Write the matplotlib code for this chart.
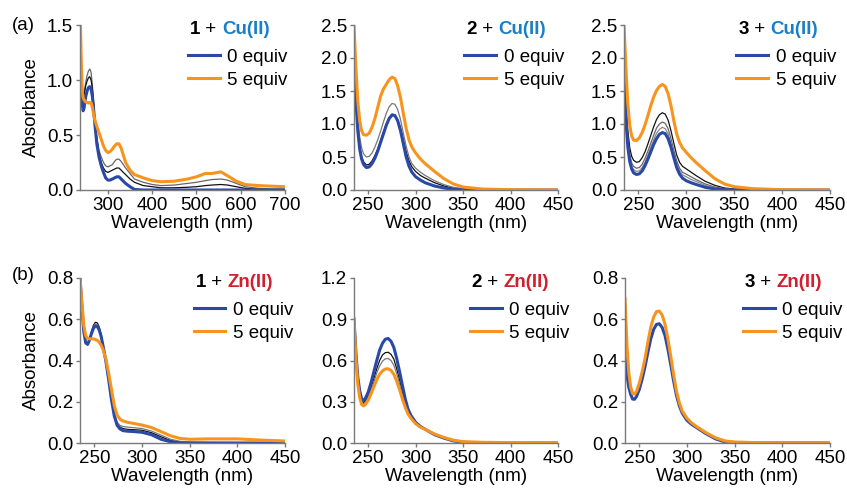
import numpy as np
import matplotlib
matplotlib.use("Agg")
import matplotlib.pyplot as plt

plt.rcParams["font.family"] = ["Liberation Sans", "DejaVu Sans"]
plt.rcParams["font.size"] = 13.5

BLUE = "#2a48a8"
ORANGE = "#f7941d"
CU_COL = "#1b7fc8"
ZN_COL = "#d0202e"

# ================================================================
# DATA
# ================================================================
# (a) 1 + Cu(II)
wl_a1 = [238, 240, 242, 244, 246, 248, 250, 253, 256, 259, 262, 265, 268, 271, 275, 280, 285,
         290, 295, 300, 305, 310, 315, 320, 325, 330, 340, 350, 360, 380, 400, 420, 450, 480,
         500, 520, 535, 555, 570, 590, 610, 640, 670, 700]
a1_blue = [1.2, 0.95, 0.78, 0.72, 0.74, 0.8, 0.85, 0.9, 0.93, 0.94, 0.92, 0.85, 0.72, 0.58, 0.42,
           0.30, 0.22, 0.16, 0.11, 0.09, 0.09, 0.10, 0.11, 0.12, 0.12, 0.10, 0.06, 0.03, 0.005,
           0, 0, 0, 0, 0, 0, 0, 0, 0, 0, 0, 0, 0, 0, 0]
a1_orange = [1.5, 1.15, 0.92, 0.84, 0.82, 0.81, 0.80, 0.795, 0.79, 0.795, 0.795, 0.75, 0.68, 0.63,
             0.58, 0.52, 0.46, 0.40, 0.36, 0.34, 0.35, 0.37, 0.40, 0.42, 0.42, 0.38, 0.25, 0.18,
             0.14, 0.11, 0.085, 0.075, 0.08, 0.10, 0.12, 0.15, 0.15, 0.165, 0.13, 0.08, 0.05,
             0.04, 0.035, 0.03]
a1_mid1 = [1.45, 1.1, 0.9, 0.85, 0.88, 0.93, 0.98, 1.04, 1.08, 1.10, 1.07, 0.95, 0.79, 0.62, 0.48,
           0.36, 0.30, 0.25, 0.22, 0.21, 0.22, 0.23, 0.26, 0.28, 0.28, 0.26, 0.20, 0.15, 0.10,
           0.07, 0.05, 0.04, 0.045, 0.06, 0.07, 0.085, 0.095, 0.10, 0.09, 0.06, 0.03, 0.015,
           0.01, 0.01]
a1_mid2 = [1.4, 1.05, 0.86, 0.8, 0.84, 0.9, 0.95, 0.99, 1.02, 1.03, 1.0, 0.92, 0.77, 0.6, 0.46,
           0.33, 0.25, 0.20, 0.17, 0.16, 0.17, 0.18, 0.19, 0.20, 0.20, 0.18, 0.14, 0.10, 0.07,
           0.04, 0.03, 0.02, 0.02, 0.025, 0.03, 0.04, 0.045, 0.05, 0.045, 0.03, 0.015, 0.005,
           0.0, 0.0]

# (a) 2 + Cu(II) and 3 + Cu(II)
wl_cu = [235, 237, 239, 241, 243, 245, 248, 251, 254, 257, 260, 263, 266, 269, 272, 275, 278,
         281, 284, 287, 290, 293, 296, 300, 305, 310, 320, 330, 340, 350, 370, 400, 450]
a2_blue = [2.0, 1.35, 0.9, 0.62, 0.47, 0.39, 0.34, 0.35, 0.4, 0.48, 0.59, 0.72, 0.85, 0.98, 1.08,
           1.135, 1.13, 1.05, 0.9, 0.7, 0.5, 0.36, 0.27, 0.2, 0.15, 0.11, 0.06, 0.03, 0.01,
           0.003, 0, 0, 0]
a2_mid1 = [2.0, 1.4, 0.95, 0.67, 0.51, 0.43, 0.38, 0.39, 0.44, 0.52, 0.62, 0.75, 0.88, 1.0, 1.1,
           1.15, 1.14, 1.07, 0.94, 0.76, 0.58, 0.44, 0.35, 0.28, 0.22, 0.18, 0.11, 0.06, 0.025,
           0.01, 0.002, 0, 0]
a2_mid2 = [2.2, 1.55, 1.1, 0.8, 0.64, 0.55, 0.5, 0.51, 0.56, 0.65, 0.76, 0.89, 1.03, 1.16, 1.26,
           1.31, 1.3, 1.22, 1.07, 0.86, 0.66, 0.5, 0.4, 0.33, 0.27, 0.22, 0.14, 0.08, 0.04,
           0.02, 0.005, 0, 0]
a2_orange = [2.5, 1.85, 1.35, 1.05, 0.9, 0.84, 0.83, 0.86, 0.95, 1.08, 1.25, 1.42, 1.53, 1.6, 1.67,
             1.71, 1.69, 1.58, 1.4, 1.16, 0.93, 0.76, 0.65, 0.56, 0.47, 0.4, 0.28, 0.17, 0.09,
             0.045, 0.015, 0.005, 0]

a3_blue = [1.7, 1.05, 0.65, 0.43, 0.32, 0.26, 0.235, 0.245, 0.29, 0.37, 0.47, 0.58, 0.69, 0.78,
           0.845, 0.87, 0.855, 0.78, 0.65, 0.49, 0.34, 0.24, 0.18, 0.14, 0.11, 0.085, 0.04,
           0.015, 0.005, 0, 0, 0, 0]
a3_mid1 = [2.0, 1.35, 0.9, 0.64, 0.51, 0.45, 0.42, 0.43, 0.49, 0.58, 0.7, 0.83, 0.96, 1.07, 1.14,
           1.17, 1.15, 1.06, 0.9, 0.71, 0.53, 0.42, 0.36, 0.32, 0.27, 0.22, 0.13, 0.07, 0.03,
           0.015, 0.003, 0, 0]
a3_mid2 = [1.9, 1.22, 0.78, 0.54, 0.41, 0.36, 0.33, 0.34, 0.39, 0.48, 0.59, 0.71, 0.83, 0.94, 1.0,
           1.03, 1.01, 0.93, 0.78, 0.6, 0.44, 0.33, 0.27, 0.24, 0.2, 0.16, 0.09, 0.045, 0.02,
           0.01, 0.002, 0, 0]
a3_mid3 = [1.8, 1.12, 0.7, 0.48, 0.36, 0.31, 0.28, 0.29, 0.34, 0.42, 0.53, 0.65, 0.76, 0.86, 0.92,
           0.95, 0.93, 0.85, 0.71, 0.54, 0.39, 0.29, 0.23, 0.2, 0.16, 0.13, 0.07, 0.03, 0.012,
           0.005, 0, 0, 0]
a3_orange = [2.5, 1.85, 1.3, 0.98, 0.82, 0.755, 0.75, 0.79, 0.87, 0.99, 1.13, 1.28, 1.41, 1.51,
             1.57, 1.6, 1.57, 1.46, 1.28, 1.05, 0.85, 0.72, 0.64, 0.57, 0.49, 0.42, 0.29, 0.17,
             0.09, 0.05, 0.02, 0.005, 0]

# (b) 1 + Zn(II)
wl_b1 = [235, 237, 239, 241, 243, 245, 247, 249, 251, 253, 255, 257, 259, 262, 265, 268, 271,
         274, 277, 280, 285, 290, 300, 310, 320, 330, 340, 350, 370, 400, 430, 450]
b1_blue = [0.80, 0.66, 0.54, 0.485, 0.478, 0.50, 0.53, 0.555, 0.567, 0.565, 0.55, 0.52, 0.475,
           0.4, 0.31, 0.21, 0.13, 0.085, 0.068, 0.06, 0.057, 0.056, 0.052, 0.04, 0.018, 0.006,
           0, 0, 0, 0, 0, 0]
b1_orange = [0.80, 0.68, 0.57, 0.52, 0.507, 0.505, 0.505, 0.505, 0.502, 0.498, 0.49, 0.475, 0.455,
             0.41, 0.34, 0.26, 0.18, 0.135, 0.115, 0.107, 0.1, 0.096, 0.087, 0.075, 0.055, 0.035,
             0.022, 0.018, 0.02, 0.02, 0.013, 0.01]
b1_mid1 = [0.80, 0.66, 0.54, 0.485, 0.48, 0.505, 0.54, 0.57, 0.585, 0.583, 0.565, 0.53, 0.48,
           0.405, 0.315, 0.215, 0.14, 0.093, 0.077, 0.07, 0.066, 0.065, 0.062, 0.05, 0.03, 0.012,
           0.004, 0.002, 0, 0, 0, 0]
b1_mid2 = [0.80, 0.66, 0.54, 0.485, 0.48, 0.503, 0.537, 0.563, 0.577, 0.575, 0.558, 0.526, 0.478,
           0.405, 0.315, 0.22, 0.145, 0.1, 0.085, 0.08, 0.077, 0.075, 0.07, 0.058, 0.038, 0.018,
           0.008, 0.005, 0.003, 0.002, 0, 0]

# (b) 2 + Zn(II) and 3 + Zn(II)
wl_zn = [235, 237, 239, 241, 243, 245, 247, 250, 253, 256, 259, 262, 265, 268, 271, 274, 277,
         280, 283, 286, 289, 292, 295, 300, 305, 310, 320, 330, 340, 350, 370, 400, 450]
b2_blue = [0.90, 0.66, 0.48, 0.38, 0.32, 0.31, 0.325, 0.37, 0.44, 0.52, 0.6, 0.675, 0.725, 0.755,
           0.76, 0.74, 0.695, 0.615, 0.52, 0.42, 0.32, 0.245, 0.2, 0.15, 0.12, 0.1, 0.06, 0.035,
           0.015, 0.005, 0, 0, 0]
b2_mid1 = [0.90, 0.64, 0.46, 0.36, 0.305, 0.295, 0.305, 0.345, 0.405, 0.47, 0.54, 0.6, 0.64, 0.657,
           0.66, 0.645, 0.61, 0.54, 0.46, 0.37, 0.29, 0.225, 0.19, 0.145, 0.117, 0.1, 0.062, 0.037,
           0.017, 0.007, 0.002, 0, 0]
b2_mid2 = [0.90, 0.63, 0.45, 0.35, 0.295, 0.285, 0.295, 0.33, 0.385, 0.445, 0.51, 0.56, 0.595,
           0.612, 0.615, 0.6, 0.565, 0.505, 0.43, 0.35, 0.275, 0.215, 0.185, 0.143, 0.116, 0.1,
           0.063, 0.038, 0.018, 0.008, 0.003, 0.001, 0]
b2_orange = [0.90, 0.62, 0.43, 0.33, 0.28, 0.27, 0.28, 0.31, 0.36, 0.41, 0.46, 0.5, 0.525, 0.538,
             0.54, 0.528, 0.5, 0.45, 0.39, 0.32, 0.26, 0.21, 0.18, 0.14, 0.115, 0.1, 0.065, 0.04,
             0.02, 0.01, 0.005, 0.003, 0.002]

b3_blue = [0.42, 0.33, 0.27, 0.235, 0.213, 0.212, 0.225, 0.26, 0.31, 0.37, 0.44, 0.505, 0.55,
           0.575, 0.578, 0.56, 0.52, 0.455, 0.38, 0.3, 0.23, 0.18, 0.145, 0.11, 0.09, 0.075,
           0.045, 0.02, 0.005, 0, 0, 0, 0]
b3_orange = [0.70, 0.48, 0.34, 0.27, 0.24, 0.237, 0.25, 0.29, 0.345, 0.41, 0.49, 0.56, 0.61,
             0.637, 0.64, 0.62, 0.575, 0.505, 0.42, 0.33, 0.25, 0.195, 0.155, 0.12, 0.097, 0.08,
             0.05, 0.025, 0.01, 0.005, 0.002, 0, 0]

# ================================================================
# PANEL SETUP
# ================================================================
panels = [
    # ligand, metal, metal colour, x, blue, orange, mids, mid colours, xlim, xticks, yticks
    ("1", "Cu(II)", CU_COL, wl_a1, a1_blue, a1_orange, [a1_mid1, a1_mid2], ["#666666", "#111111"],
     (237, 700), [300, 400, 500, 600, 700], [0, 0.5, 1.0, 1.5]),
    ("2", "Cu(II)", CU_COL, wl_cu, a2_blue, a2_orange, [a2_mid1, a2_mid2], ["#111111", "#777777"],
     (235, 450), [250, 300, 350, 400, 450], [0, 0.5, 1.0, 1.5, 2.0, 2.5]),
    ("3", "Cu(II)", CU_COL, wl_cu, a3_blue, a3_orange, [a3_mid1, a3_mid2, a3_mid3],
     ["#111111", "#666666", "#888888"],
     (235, 450), [250, 300, 350, 400, 450], [0, 0.5, 1.0, 1.5, 2.0, 2.5]),
    ("1", "Zn(II)", ZN_COL, wl_b1, b1_blue, b1_orange, [b1_mid1, b1_mid2], ["#111111", "#777777"],
     (235, 450), [250, 300, 350, 400, 450], [0, 0.2, 0.4, 0.6, 0.8]),
    ("2", "Zn(II)", ZN_COL, wl_zn, b2_blue, b2_orange, [b2_mid1, b2_mid2], ["#111111", "#777777"],
     (235, 450), [250, 300, 350, 400, 450], [0, 0.3, 0.6, 0.9, 1.2]),
    ("3", "Zn(II)", ZN_COL, wl_zn, b3_blue, b3_orange, [], [],
     (235, 450), [250, 300, 350, 400, 450], [0, 0.2, 0.4, 0.6, 0.8]),
]

# axes boxes in pixels: left, top, right, bottom
W, H = 847, 495
boxes = [(80, 25, 285, 190), (354, 25, 558, 190), (624, 25, 830, 190),
         (80, 278, 285, 443), (354, 278, 558, 443), (625, 278, 830, 443)]
title_x = [0.537, 0.55, 0.555, 0.564, 0.577, 0.584]

fig = plt.figure(figsize=(W / 100, H / 100), dpi=100)

for i, (lig, metal, mcol, x, blue, orange, mids, mcols, xlim, xt, yt) in enumerate(panels):
    l, t, r, b = boxes[i]
    ax = fig.add_axes([l / W, 1 - b / H, (r - l) / W, (b - t) / H])

    for m, c in zip(mids, mcols):
        ax.plot(x, m, color=c, lw=0.9)
    ax.plot(x, blue, color=BLUE, lw=2.2, label="0 equiv")
    ax.plot(x, orange, color=ORANGE, lw=2.2, label="5 equiv")

    ax.set_xlim(*xlim)
    ax.set_ylim(0, yt[-1])
    ax.set_xticks(xt)
    ax.set_yticks(yt)
    ax.set_yticklabels([f"{v:.1f}" for v in yt])
    ax.set_xlabel("Wavelength (nm)", labelpad=1)
    if i % 3 == 0:
        ax.set_ylabel("Absorbance", labelpad=5)

    for s in ["top", "right"]:
        ax.spines[s].set_visible(False)
    for s in ["left", "bottom"]:
        ax.spines[s].set_color("#7a7a7a")
        ax.spines[s].set_linewidth(1.0)
    ax.tick_params(direction="out", length=3, width=1.0, color="#7a7a7a", pad=2)

    # title: bold ligand number + coloured metal
    tx = title_x[i]
    t1 = ax.text(tx, 0.97, lig, transform=ax.transAxes, fontweight="bold", va="center", ha="left")
    t2 = ax.annotate(" + ", xy=(1, 0), xycoords=t1, va="bottom", ha="left")
    ax.annotate(metal, xy=(1, 0), xycoords=t2, va="bottom", ha="left",
                color=mcol, fontweight="bold")

    ax.legend(loc="upper left", bbox_to_anchor=(tx - 0.01, 0.855), frameon=False,
              handlelength=1.7, handletextpad=0.4, labelspacing=0.3,
              borderpad=0, borderaxespad=0)

fig.text(12 / W, 1 - 25 / H, "(a)", va="center", ha="left")
fig.text(12 / W, 1 - 275 / H, "(b)", va="center", ha="left")

fig.savefig("out.png", dpi=100)
